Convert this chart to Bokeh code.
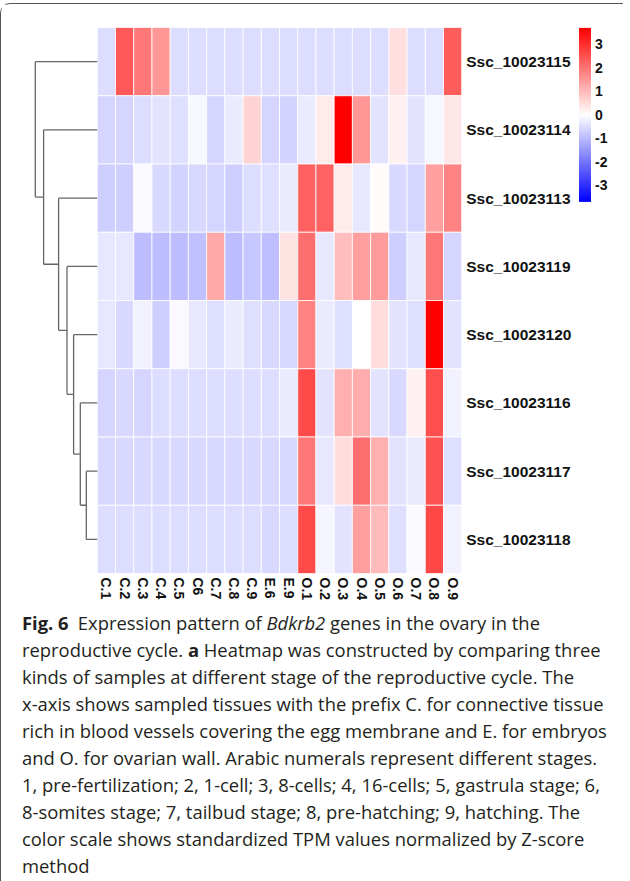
import math
from bokeh.plotting import figure
from bokeh.models import (ColumnDataSource, LinearColorMapper, ColorBar, FixedTicker,
                          Range1d, Div)
from bokeh.layouts import column
from bokeh.transform import transform
from bokeh.core.properties import value
from bokeh.embed import file_html
from bokeh.resources import INLINE

# ---------------- data ----------------
samples = ["C.1", "C.2", "C.3", "C.4", "C.5", "C6", "C.7", "C.8", "C.9", "E.6", "E.9",
           "O.1", "O.2", "O.3", "O.4", "O.5", "O.6", "O.7", "O.8", "O.9"]
genes = ["Ssc_10023115", "Ssc_10023114", "Ssc_10023113", "Ssc_10023119",
         "Ssc_10023120", "Ssc_10023116", "Ssc_10023117", "Ssc_10023118"]

z_115 = [-0.50, 2.40, 1.95, 1.50, -0.50, -0.50, -0.50, -0.50, -0.50, -0.50, -0.50,
         -0.50, -0.50, -0.50, -0.50, -0.50, 0.45, -0.50, -0.50, 2.35]
z_114 = [-0.60, -0.60, -0.50, -0.40, -0.45, -0.12, -0.60, -0.30, 0.65, -0.60, -0.65,
         -0.30, 0.30, 3.70, 1.50, -0.40, 0.20, -0.40, -0.12, 0.35]
z_113 = [-0.70, -0.70, -0.10, -0.55, -0.65, -0.55, -0.60, -0.70, -0.50, -0.45, -0.30,
         2.30, 2.25, 0.30, -0.35, 0.05, -0.55, -0.60, 1.40, 1.80]
z_119 = [-0.35, -0.35, -0.95, -0.95, -0.95, -0.90, 1.25, -0.95, -0.80, -0.92, 0.40,
         2.10, -0.35, 0.95, 1.40, 1.45, -0.70, -0.35, 1.95, -0.60]
z_120 = [-0.35, -0.55, -0.20, -0.70, -0.10, -0.35, -0.45, -0.30, -0.45, -0.55, -0.55,
         1.80, -0.30, -0.45, 0.00, 0.50, -0.40, -0.45, 3.70, -0.40]
z_116 = [-0.60, -0.55, -0.60, -0.50, -0.50, -0.50, -0.50, -0.50, -0.50, -0.50, -0.30,
         2.60, -0.40, 1.15, 1.20, -0.40, -0.55, 0.20, 2.55, -0.20]
z_117 = [-0.55, -0.55, -0.55, -0.55, -0.55, -0.55, -0.55, -0.55, -0.55, -0.58, -0.55,
         1.95, -0.35, 0.50, 2.10, 1.15, -0.40, -0.30, 2.50, -0.45]
z_118 = [-0.50, -0.50, -0.50, -0.50, -0.50, -0.48, -0.50, -0.50, -0.50, -0.55, -0.50,
         2.60, -0.15, -0.40, 1.40, 1.00, -0.45, -0.05, 2.65, -0.20]
rows = [z_115, z_114, z_113, z_119, z_120, z_116, z_117, z_118]

# hierarchical clustering of rows (indices in display order; new nodes numbered from 8)
merge_left = [6, 5, 4, 3, 2, 1, 0]
merge_right = [7, 8, 9, 10, 11, 12, 13]
merge_height = [1.10, 1.70, 2.37, 3.03, 3.87, 5.37, 6.20]

cbar_ticks = [-3, -2, -1, 0, 1, 2, 3]
z_limit = 3.7

# ---------------- build ----------------
n_cols = len(samples)
n_rows = len(genes)

xs, ys, zs = [], [], []
for r, vals in enumerate(rows):
    for c, v in enumerate(vals):
        xs.append(c + 0.5)
        ys.append(r + 0.5)
        zs.append(v)
src = ColumnDataSource(dict(x=xs, y=ys, z=zs))

half = 128
palette = []
for i in range(half):
    t = i / (half - 1)
    g = int(round(255 * t))
    palette.append("#%02x%02x%02x" % (g, g, 255))
for i in range(1, half):
    t = i / (half - 1)
    g = int(round(255 * (1 - t)))
    palette.append("#%02x%02x%02x" % (255, g, g))
mapper = LinearColorMapper(palette=palette, low=-z_limit, high=z_limit)

p = figure(width=612, height=599, output_backend="svg", toolbar_location=None,
           x_range=Range1d(-4.27, 28.11), y_range=Range1d(n_rows, 0),
           min_border_left=18, min_border_right=4, min_border_top=23,
           min_border_bottom=30, y_axis_location=None)
p.outline_line_color = None
p.grid.visible = False
p.background_fill_color = "white"
p.border_fill_color = "white"

p.rect(x="x", y="y", width=1, height=1, source=src,
       fill_color=transform("z", mapper), line_color="white", line_width=0.8)

# dendrogram
dscale = 10 / 18.22
pos_y = {i: i + 0.5 for i in range(n_rows)}
pos_h = {i: 0.0 for i in range(n_rows)}
x0, y0, x1, y1 = [], [], [], []
for k, (a, b, h) in enumerate(zip(merge_left, merge_right, merge_height)):
    node = n_rows + k
    for ch in (a, b):
        x0.append(-pos_h[ch] * dscale); y0.append(pos_y[ch])
        x1.append(-h * dscale); y1.append(pos_y[ch])
    x0.append(-h * dscale); y0.append(pos_y[a])
    x1.append(-h * dscale); y1.append(pos_y[b])
    pos_y[node] = (pos_y[a] + pos_y[b]) / 2
    pos_h[node] = h
p.segment(x0=x0, y0=y0, x1=x1, y1=y1, line_color="#666666", line_width=1.3)

# row labels
p.text(x=[n_cols] * n_rows, y=[r + 0.5 for r in range(n_rows)], text=genes,
       x_offset=4.5, text_baseline="middle", text_align="left",
       text_font=value("Liberation Sans"), text_font_style="bold",
       text_font_size="15.5px", text_color="#111111")

# x axis labels
centers = [c + 0.5 for c in range(n_cols)]
p.xaxis.ticker = FixedTicker(ticks=centers)
p.xaxis.major_label_overrides = {c: s for c, s in zip(centers, samples)}
p.xaxis.major_label_orientation = -math.pi / 2
p.xaxis.axis_line_color = None
p.xaxis.major_tick_line_color = None
p.xaxis.minor_tick_line_color = None
p.xaxis.major_tick_out = 0
p.xaxis.major_tick_in = 0
p.xaxis.major_label_standoff = 4
p.xaxis.major_label_text_font = "Liberation Sans"
p.xaxis.major_label_text_font_style = "bold"
p.xaxis.major_label_text_font_size = "14px"
p.xaxis.major_label_text_color = "#111111"

cb = ColorBar(color_mapper=mapper, ticker=FixedTicker(ticks=cbar_ticks),
              major_label_overrides={t: str(t) for t in cbar_ticks},
              location=(559.5, 371.6), width=12, height=174, padding=0,
              label_standoff=4, major_tick_line_color=None, border_line_color=None,
              bar_line_color=None, background_fill_alpha=0,
              major_label_text_font="Liberation Sans",
              major_label_text_font_style="bold",
              major_label_text_font_size="14px", major_label_text_color="#111111")
p.add_layout(cb)

caption = ("<b>Fig. 6</b>&ensp;Expression pattern of <i>Bdkrb2</i> genes in the ovary in the<br>"
           "reproductive cycle. <b>a</b> Heatmap was constructed by comparing three<br>"
           "kinds of samples at different stage of the reproductive cycle. The<br>"
           "x-axis shows sampled tissues with the prefix C. for connective tissue<br>"
           "rich in blood vessels covering the egg membrane and E. for embryos<br>"
           "and O. for ovarian wall. Arabic numerals represent different stages.<br>"
           "1, pre-fertilization; 2, 1-cell; 3, 8-cells; 4, 16-cells; 5, gastrula stage; 6,<br>"
           "8-somites stage; 7, tailbud stage; 8, pre-hatching; 9, hatching. The<br>"
           "color scale shows standardized TPM values normalized by Z-score<br>"
           "method")
div = Div(text=caption, width=612, height=276,
          styles={"font-family": "Open Sans", "font-size": "18.4px", "line-height": "27px",
                  "color": "#231f20", "white-space": "nowrap", "padding-left": "16px",
                  "padding-top": "1px", "overflow": "hidden", "box-sizing": "border-box"})

layout = column(p, div, spacing=0,
                styles={"border-left": "1.5px solid #555555", "border-top": "1.5px solid #555555",
                        "border-top-left-radius": "10px", "margin-top": "3px"})

open("out.html", "w").write(file_html(layout, INLINE))
